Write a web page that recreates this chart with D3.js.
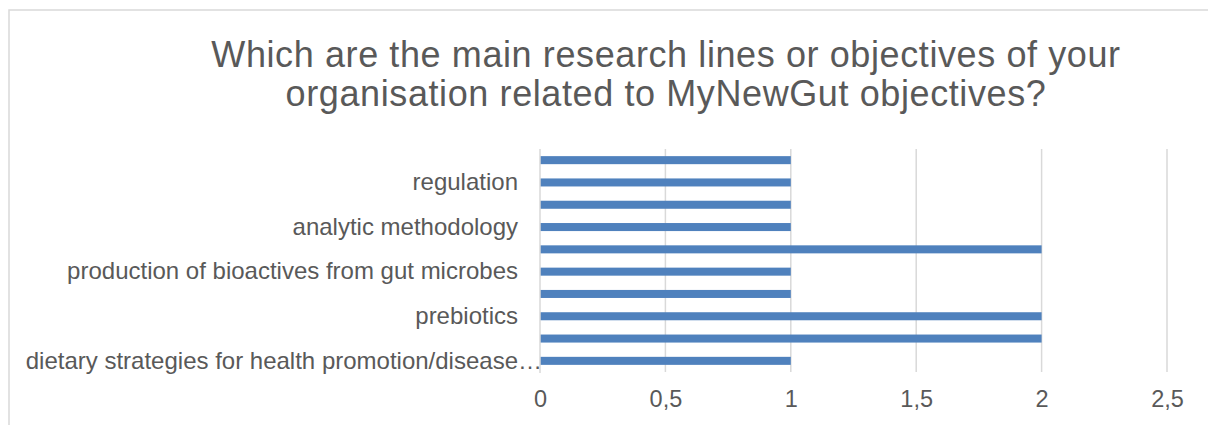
<!DOCTYPE html>
<html>
<head>
<meta charset="utf-8">
<script src="https://cdn.jsdelivr.net/npm/d3@7"></script>
<style>
  html, body { margin: 0; padding: 0; background: #fff; }
  svg text { font-family: "Liberation Sans", Arial, sans-serif; fill: #595959; }
</style>
</head>
<body>
<div id="chart"></div>
<script>
// categories bottom to top, as in the source sheet (only every other label is shown)
const categories = [
  'dietary strategies for health promotion/disease…',
  'probiotics',
  'prebiotics',
  'gut microbiota characterisation',
  'production of bioactives from gut microbes',
  'food processing',
  'analytic methodology',
  'consumer behaviour',
  'regulation',
  'nutrition and brain'
];
const values = [1, 2, 2, 1, 1, 2, 1, 1, 1, 1];
const xTicks = [0, 0.5, 1, 1.5, 2, 2.5];
const titleLines = [
  'Which are the main research lines or objectives of your',
  'organisation related to MyNewGut objectives?'
];

const width = 1208;
const height = 425;
const margin = { top: 149, right: 41, bottom: 53, left: 540 };

const svg = d3.select('#chart').append('svg')
  .attr('width', width)
  .attr('height', height);

// chart frame
svg.append('path')
  .attr('d', `M9,${height} V10 H${width}`)
  .attr('fill', 'none')
  .attr('stroke', '#d9d9d9')
  .attr('stroke-width', 1.5);

svg.append('text')
  .attr('x', 666)
  .attr('y', 67)
  .attr('text-anchor', 'middle')
  .style('font-size', '36px')
  .style('letter-spacing', '0.6px')
  .selectAll('tspan')
  .data(titleLines)
  .enter().append('tspan')
  .attr('x', 666)
  .attr('dy', (d, i) => i === 0 ? 0 : 39)
  .text(d => d);

const x = d3.scaleLinear()
  .domain([0, 2.5])
  .range([margin.left, width - margin.right]);

const y = d3.scaleBand()
  .domain(categories)
  .range([height - margin.bottom, margin.top])
  .paddingInner(0.64)
  .paddingOuter(0.32);

const g = svg.append('g');

// gridlines
g.selectAll('.grid')
  .data(xTicks.slice(1))
  .enter().append('line')
  .attr('class', 'grid')
  .attr('x1', d => x(d))
  .attr('x2', d => x(d))
  .attr('y1', margin.top)
  .attr('y2', height - margin.bottom)
  .attr('stroke', '#d9d9d9')
  .attr('stroke-width', 1.5);

// bars
g.selectAll('.bar')
  .data(values)
  .enter().append('rect')
  .attr('class', 'bar')
  .attr('x', x(0))
  .attr('y', (d, i) => y(categories[i]))
  .attr('width', d => x(d) - x(0))
  .attr('height', y.bandwidth())
  .attr('fill', '#4f81bd');

// vertical axis line
g.append('line')
  .attr('x1', x(0))
  .attr('x2', x(0))
  .attr('y1', margin.top)
  .attr('y2', height - margin.bottom + 1)
  .attr('stroke', '#d9d9d9')
  .attr('stroke-width', 1.5);

// x tick labels
const xAxis = d3.axisBottom(x)
  .tickValues(xTicks)
  .tickSize(0)
  .tickPadding(0)
  .tickFormat(d => String(d).replace('.', ','));

const xg = svg.append('g')
  .attr('transform', `translate(0,${height - margin.bottom})`)
  .call(xAxis);
xg.select('.domain').remove();
xg.selectAll('text')
  .attr('dy', null)
  .attr('y', 35)
  .style('font-size', '23.5px')
  .attr('fill', '#595959');

// category labels, every other one (Excel skips labels that don't fit)
const yAxis = d3.axisLeft(y)
  .tickSize(0)
  .tickPadding(22)
  .tickFormat((d, i) => i % 2 === 0 ? d.replace('…', '') : '');

const yg = svg.append('g')
  .attr('transform', `translate(${margin.left},0)`)
  .call(yAxis);
yg.select('.domain').remove();
yg.selectAll('text')
  .style('font-size', '24px')
  .attr('fill', '#595959');

// ellipsis of the truncated label hangs past the label edge
yg.selectAll('.tick')
  .filter(d => d.endsWith('…'))
  .append('text')
  .attr('x', -22)
  .attr('dy', '0.32em')
  .attr('text-anchor', 'start')
  .style('font-size', '24px')
  .attr('fill', '#595959')
  .text('…');
</script>
</body>
</html>
